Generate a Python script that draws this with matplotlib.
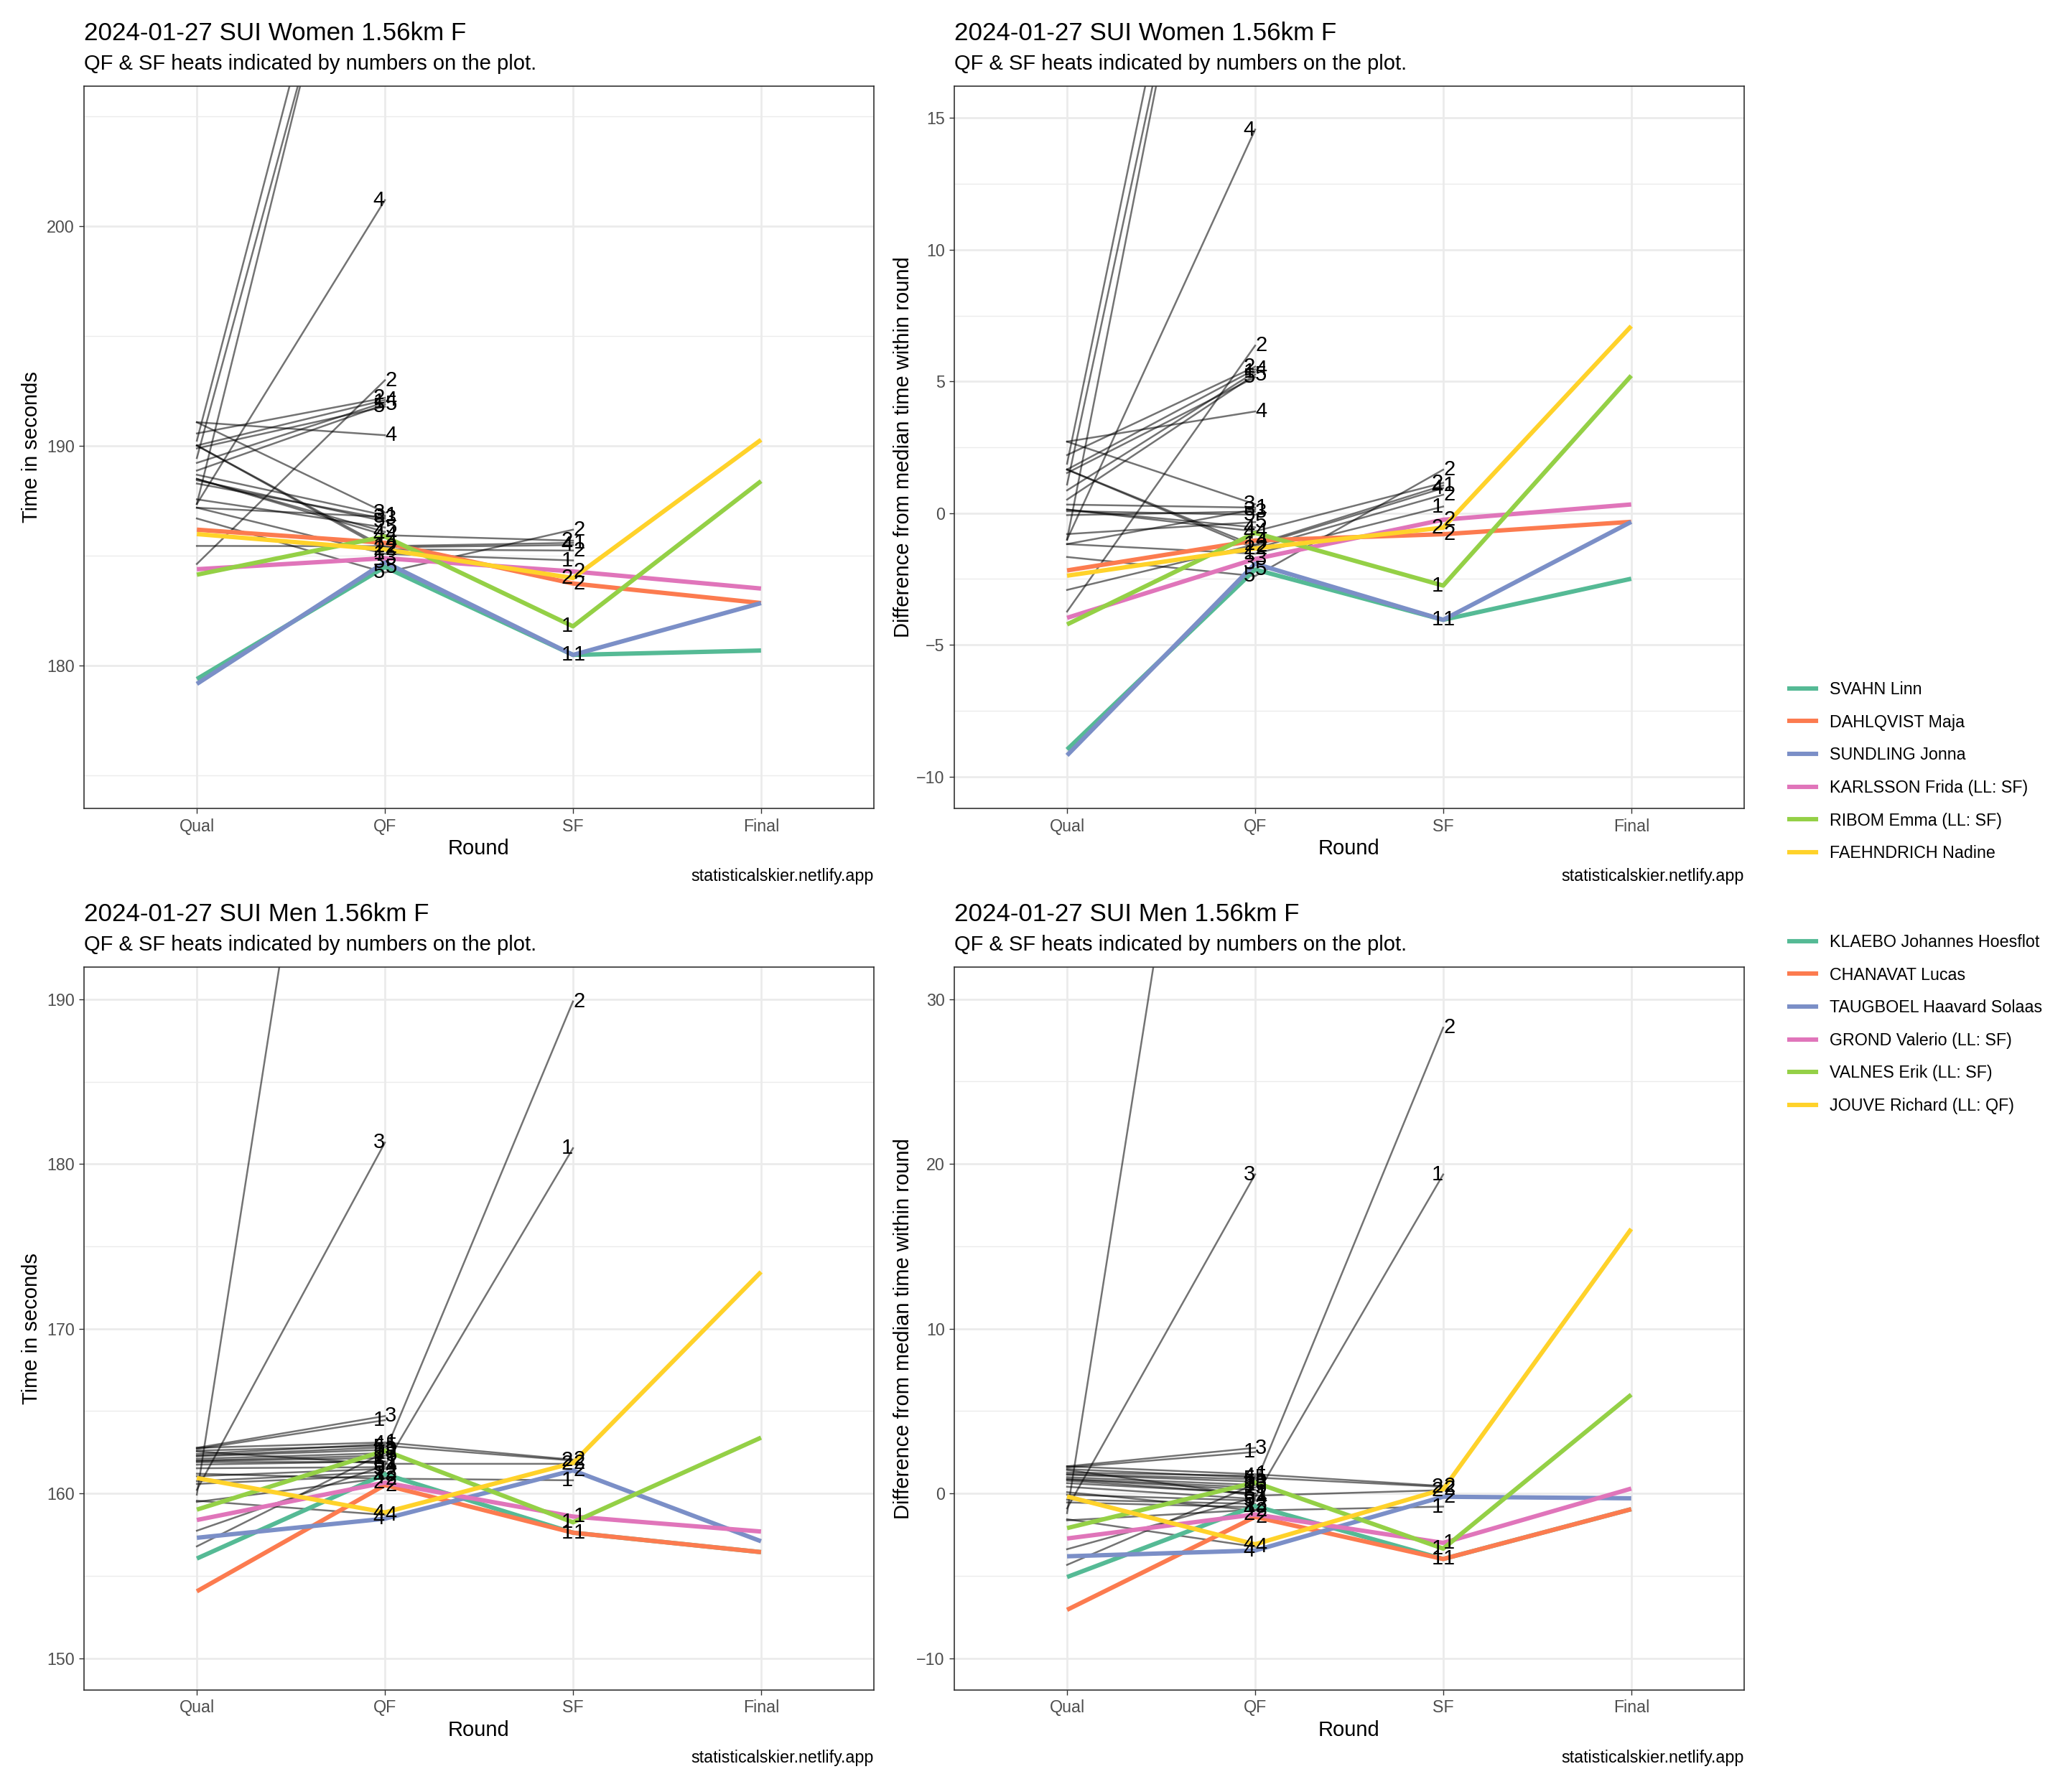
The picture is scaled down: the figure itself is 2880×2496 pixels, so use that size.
import numpy as np
import matplotlib.pyplot as plt
from matplotlib.lines import Line2D
from matplotlib.ticker import MultipleLocator

plt.rcParams['font.family'] = ['Liberation Sans', 'DejaVu Sans']

rounds = ["Qual", "QF", "SF", "Final"]

# ---- Women: finalists (Qual, QF, SF, Final times in seconds) ----
women_names = ["SVAHN Linn", "DAHLQVIST Maja", "SUNDLING Jonna",
               "KARLSSON Frida (LL: SF)", "RIBOM Emma (LL: SF)", "FAEHNDRICH Nadine"]
women_final_times = [
    [179.40, 184.50, 180.50, 180.70],
    [186.20, 185.60, 183.75, 182.86],
    [179.18, 184.72, 180.50, 182.86],
    [184.40, 184.90, 184.30, 183.52],
    [184.15, 185.89, 181.80, 188.41],
    [186.00, 185.30, 184.00, 190.29],
]
women_final_qf_heat = [5, 4, 3, 3, 4, 2]
women_final_sf_heat = [1, 2, 1, 2, 1, 2]

# ---- Women: everyone else ----
women_other_qual = [190.25, 189.46, 187.37, 187.37, 184.64, 191.09, 190.58, 190.03,
                    189.24, 188.89, 189.90, 191.09, 188.70, 187.20, 188.30, 188.45,
                    187.58, 188.51, 188.51, 185.46, 190.03, 190.03, 187.20, 186.71]
women_other_qf = [223.0, 221.0, 222.0, 201.2, 193.0, 190.5, 192.2, 192.1,
                  192.0, 191.9, 191.8, 186.98, 186.85, 186.78, 186.70, 186.58,
                  186.30, 186.10, 185.95, 185.45, 185.40, 185.30, 185.10, 184.25]
women_other_qf_heat = [1, 3, 5, 4, 2, 4, 2, 4, 1, 5, 5, 3, 1, 3, 3, 5, 5, 4, 4, 1, 2, 2, 1, 5]
women_other_sf = [np.nan] * 18 + [185.70, 185.60, 185.50, 185.25, 184.80, 186.20]
women_other_sf_heat = [0] * 18 + [2, 1, 4, 2, 1, 2]

# ---- Men: finalists ----
men_names = ["KLAEBO Johannes Hoesflot", "CHANAVAT Lucas", "TAUGBOEL Haavard Solaas",
             "GROND Valerio (LL: SF)", "VALNES Erik (LL: SF)", "JOUVE Richard (LL: QF)"]
men_final_times = [
    [156.05, 161.17, 157.62, 156.44],
    [154.06, 160.51, 157.62, 156.44],
    [157.31, 158.47, 161.40, 157.10],
    [158.39, 160.66, 158.60, 157.69],
    [159.02, 162.60, 158.25, 163.39],
    [160.94, 158.85, 161.85, 173.45],
]
men_final_qf_heat = [1, 2, 4, 2, 5, 4]
men_final_sf_heat = [1, 1, 2, 1, 1, 2]

# ---- Men: everyone else ----
men_other_qual = [159.93, 160.22, 162.77, 162.70, 162.77, 162.60, 156.79, 157.74,
                  162.55, 161.20, 162.40, 162.30, 162.26, 162.11, 162.00, 161.97,
                  161.90, 161.75, 161.53, 161.05, 160.75, 160.58, 159.49, 159.56]
men_other_qf = [233.0, 181.3, 164.70, 164.45, 163.10, 162.90, 162.50, 161.70,
                161.80, 160.90, 163.00, 162.80, 162.65, 162.45, 162.30, 162.15,
                161.92, 161.95, 161.60, 161.50, 161.30, 161.10, 160.95, 158.70]
men_other_qf_heat = [2, 3, 3, 1, 1, 5, 3, 5, 1, 2, 4, 5, 3, 1, 5, 2, 3, 1, 4, 5, 2, 3, 4, 4]
men_other_sf = [np.nan] * 4 + [162.05, 162.00, 189.87, 180.96, 161.80, 160.80] + [np.nan] * 14
men_other_sf_heat = [0] * 4 + [2, 2, 2, 1, 2, 1] + [0] * 14

colors = ["#55BA95", "#FC7B4F", "#7B8FC7", "#E075BA", "#94D046", "#FFD22A"]

W, H = 2880, 2496
fig = plt.figure(figsize=(W / 200, H / 200), dpi=200)


def build(final_times, final_qf, final_sf, o_qual, o_qf, o_qf_heat, o_sf, o_sf_heat):
    other = np.column_stack([o_qual, o_qf, o_sf, np.full(len(o_qual), np.nan)])
    fin = np.array(final_times, dtype=float)
    heats_qf = list(o_qf_heat) + list(final_qf)
    heats_sf = list(o_sf_heat) + list(final_sf)
    return other, fin, heats_qf, heats_sf


def panel(rect, data, diff, ylim, major, minor, title, ylabel, ylab_x):
    other, fin, heats_qf, heats_sf = data
    if diff:
        # difference from the median time of everyone in that round
        med = np.nanmedian(np.vstack([other, fin]), axis=0)
        other = other - med
        fin = fin - med
    ax = fig.add_axes(rect)
    x = np.arange(1, 5)
    for row in other:
        ax.plot(x, row, color="black", alpha=0.55, lw=0.9, zorder=2)
    for row, c in zip(fin, colors):
        ax.plot(x, row, color=c, lw=2.2, zorder=3, solid_capstyle="butt")
    allv = np.vstack([other, fin])
    for r, heats in ((1, heats_qf), (2, heats_sf)):
        idx = [i for i in range(len(allv)) if not np.isnan(allv[i, r])]
        idx.sort(key=lambda i: -allv[i, r])
        for k, i in enumerate(idx):
            dx = 0.032 if k % 2 == 0 else -0.032
            # labels beyond the visible range are not shown
            if not (ylim[0] <= allv[i, r] <= ylim[1] - 0.3):
                continue
            ax.text(r + 1 + dx, allv[i, r], str(heats[i]), ha="center", va="center",
                    fontsize=10.5, color="black", zorder=5, clip_on=True)
    ax.set_xlim(0.4, 4.6)
    ax.set_ylim(*ylim)
    ax.set_xticks(x)
    ax.set_xticklabels(rounds)
    ax.yaxis.set_major_locator(MultipleLocator(major))
    ax.yaxis.set_minor_locator(MultipleLocator(minor))
    ax.grid(which="major", color="#EBEBEB", lw=1.0)
    ax.grid(which="minor", axis="y", color="#EBEBEB", lw=0.5)
    ax.set_axisbelow(True)
    ax.tick_params(axis="both", which="major", length=2.6, width=0.5, color="#333333",
                   labelsize=8.4, labelcolor="#4D4D4D", pad=2.2)
    ax.tick_params(axis="y", which="minor", length=0)
    for s in ax.spines.values():
        s.set_color("#333333")
        s.set_linewidth(0.6)
    ax.set_xlabel("Round", fontsize=10.5, labelpad=2)
    ax.set_ylabel(ylabel, fontsize=10.5)
    ax.yaxis.set_label_coords(ylab_x, 0.5)
    ax.text(0, 1.0636, title, transform=ax.transAxes, ha="left", va="baseline", fontsize=12.6)
    ax.text(0, 1.0224, "QF & SF heats indicated by numbers on the plot.",
            transform=ax.transAxes, ha="left", va="baseline", fontsize=10.5)
    ax.text(1, -0.1004, "statisticalskier.netlify.app", transform=ax.transAxes,
            ha="right", va="baseline", fontsize=8.4)
    return ax


women = build(women_final_times, women_final_qf_heat, women_final_sf_heat,
              women_other_qual, women_other_qf, women_other_qf_heat,
              women_other_sf, women_other_sf_heat)
men = build(men_final_times, men_final_qf_heat, men_final_sf_heat,
            men_other_qual, men_other_qf, men_other_qf_heat,
            men_other_sf, men_other_sf_heat)

lx, rx, w = 117 / W, 1328.9 / W, 1100 / W
tb, bb, h = 1 - 1126.4 / H, 1 - 2353.7 / H, 1006.8 / H

panel([lx, tb, w, h], women, False, (173.5, 206.4), 10, 5,
      "2024-01-27 SUI Women 1.56km F", "Time in seconds", -0.054)
panel([rx, tb, w, h], women, True, (-11.22, 16.22), 5, 2.5,
      "2024-01-27 SUI Women 1.56km F", "Difference from median time within round", -0.052)
panel([lx, bb, w, h], men, False, (148.08, 191.96), 10, 5,
      "2024-01-27 SUI Men 1.56km F", "Time in seconds", -0.054)
panel([rx, bb, w, h], men, True, (-11.92, 31.95), 10, 5,
      "2024-01-27 SUI Men 1.56km F", "Difference from median time within round", -0.052)

# two legends at the right side
for names, top in ((women_names, 0.6198), (men_names, 0.4788)):
    handles = [Line2D([], [], color=c, lw=2.2) for c in colors]
    fig.legend(handles, names, loc="upper left", bbox_to_anchor=(0.8653, top),
               frameon=False, fontsize=8.4, handlelength=1.6, labelspacing=0.97,
               handletextpad=0.8, borderpad=0, borderaxespad=0)

fig.savefig("out.png", dpi=200, facecolor="white")
